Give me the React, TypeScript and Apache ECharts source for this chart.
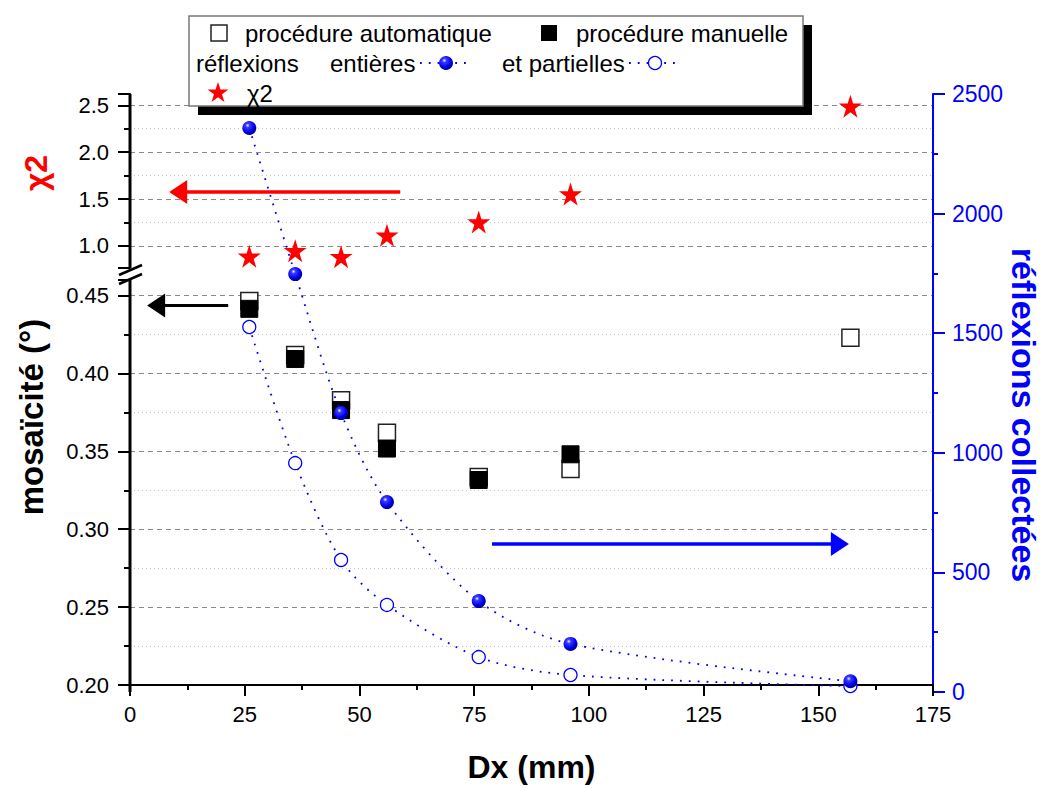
import React, { useEffect, useRef } from 'react';
import * as echarts from 'echarts';

// ---------- data ----------
const dx = [26, 36, 46, 56, 76, 96, 157];
const chi2 = [0.89, 0.95, 0.886, 1.114, 1.255, 1.553, 2.49];
const mosaicAuto = [0.4465, 0.4118, 0.3828, 0.3619, 0.3335, 0.3386, 0.4229];
const mosaicManual: (number | null)[] = [0.4415, 0.4093, 0.3765, 0.3518, 0.3316, 0.3481, null];
const reflEntieres = [2358, 1747, 1166, 794, 380, 201, 45];
const reflPartielles = [1526, 957, 552, 364, 146, 71, 25];

// axis ranges / steps
const chi2Range = [0.765, 2.62];
const chi2Step = 0.5;
const mosaicRange = [0.2, 0.46];
const mosaicStep = 0.05;
const dxRange = [0, 175];
const dxStep = 25;
const reflRange = [0, 2500];
const reflStep = 500;

// annotation arrows (data coordinates: [x, y] tail, [x, y] head)
const arrowChi2 = [[58.9, 1.574], [10.5, 1.574]];
const arrowMosaic = [[21.4, 0.4437], [5.7, 0.4437]];
const arrowRefl = [[78.9, 619], [154.7, 619]];

const FONT = "'Liberation Sans', Arial, Helvetica, sans-serif";

// layout (pixels)
const PLOT_LEFT = 130;
const PLOT_RIGHT = 119;
const TOP_SEG = { top: 94, height: 174 };
const BOT_SEG = { top: 280, height: 412 };

function starPts(cx: number, cy: number, R: number) {
  const pts: number[][] = [];
  for (let k = 0; k < 10; k++) {
    const r = k % 2 === 0 ? R : R * 0.382;
    const a = -Math.PI / 2 + (k * Math.PI) / 5;
    pts.push([cx + r * Math.cos(a), cy + r * Math.sin(a)]);
  }
  return pts;
}
const starPath =
  'path://M' + starPts(1, 1, 1).map((p) => p[0].toFixed(4) + ',' + p[1].toFixed(4)).join('L') + 'Z';

const pairs = (ys: (number | null)[]) =>
  dx.map((x, i) => [x, ys[i]]).filter((p) => p[1] !== null);

const sphereStops = [
  { offset: 0, color: '#f0f0ff' },
  { offset: 0.22, color: '#3a3aff' },
  { offset: 0.7, color: '#0000ee' },
  { offset: 1, color: '#00008a' },
];
const sphere = { type: 'radial', x: 0.38, y: 0.32, r: 0.68, colorStops: sphereStops };

const arrowML = (seg: number[][], color: string, width: number) => ({
  silent: true,
  symbol: ['none', 'triangle'],
  symbolSize: [24, 18],
  label: { show: false },
  emphasis: { disabled: true },
  lineStyle: { color, width, type: 'solid', opacity: 1 },
  data: [[{ coord: seg[0] }, { coord: seg[1] }]],
});

export default function App() {
  const ref = useRef<HTMLDivElement>(null);
  useEffect(() => {
    if (!ref.current) return;
    const chart = echarts.init(ref.current, undefined, { renderer: 'svg' });

    const black = () => ({ color: '#000000', width: 2, opacity: 1 });
    const blue = () => ({ color: '#0000ff', width: 2, opacity: 1 });
    const dashed = () => ({ type: [5, 4], color: '#8a8a8a', width: 1 });
    const dotted = () => ({ type: [1, 3], color: '#c4c4c4', width: 1 });

    const leftAxis = (gridIndex: number, range: number[], step: number, digits: number, showMin: boolean) => ({
      gridIndex,
      type: 'value',
      position: 'left',
      min: range[0],
      max: range[1],
      minInterval: step,
      maxInterval: step,
      axisLine: { show: true, onZero: false, lineStyle: black() },
      axisTick: { show: true, length: 12, lineStyle: black() },
      minorTick: { show: true, splitNumber: 2, length: 6, lineStyle: black() },
      axisLabel: {
        show: true,
        showMinLabel: showMin,
        showMaxLabel: false,
        fontSize: 22,
        color: '#000',
        margin: 21,
        fontFamily: FONT,
        formatter: (v: number) => v.toFixed(digits),
      },
      splitLine: { show: true, showMinLine: false, showMaxLine: false, lineStyle: dashed() },
      minorSplitLine: { show: true, lineStyle: dotted() },
    });

    const legendRow = [33, 63, 93];
    const legendText = (text: string, x: number, y: number) => ({
      type: 'text',
      x,
      y,
      z: 12,
      style: { text, fontSize: 24, fontFamily: FONT, fill: '#000', align: 'left', verticalAlign: 'middle' },
    });

    // left axis spine of a segment, drawn as a thin filled rectangle
    const spineRect = (top: number, height: number) => ({
      type: 'rect',
      z: 30,
      silent: true,
      shape: { x: PLOT_LEFT - 1.5, y: top, width: 3, height },
      style: { fill: '#000000' },
    });

    const option: any = {
      animation: false,
      backgroundColor: '#fff',
      grid: [
        { left: PLOT_LEFT, right: PLOT_RIGHT, top: TOP_SEG.top, height: TOP_SEG.height },
        { left: PLOT_LEFT, right: PLOT_RIGHT, top: BOT_SEG.top, height: BOT_SEG.height },
        { left: PLOT_LEFT, right: PLOT_RIGHT, top: TOP_SEG.top, height: BOT_SEG.top + BOT_SEG.height - TOP_SEG.top },
      ],
      xAxis: [
        { gridIndex: 0, type: 'value', min: dxRange[0], max: dxRange[1], show: false },
        {
          gridIndex: 1,
          type: 'value',
          min: dxRange[0],
          max: dxRange[1],
          interval: dxStep,
          axisLine: { show: true, onZero: false, lineStyle: black() },
          axisTick: { show: true, length: 11, lineStyle: black() },
          minorTick: { show: true, splitNumber: 2, length: 5, lineStyle: black() },
          axisLabel: { fontSize: 22, color: '#000', margin: 18, fontFamily: FONT, formatter: (v: number) => String(v) },
          splitLine: { show: false },
          name: 'Dx (mm)',
          nameLocation: 'middle',
          nameGap: 66,
          nameTextStyle: { fontSize: 32, fontWeight: 'bold', color: '#000', fontFamily: FONT },
        },
        { gridIndex: 2, type: 'value', min: dxRange[0], max: dxRange[1], show: false },
      ],
      yAxis: [
        leftAxis(0, chi2Range, chi2Step, 1, false),
        leftAxis(1, mosaicRange, mosaicStep, 2, true),
        {
          gridIndex: 2,
          type: 'value',
          position: 'right',
          min: reflRange[0],
          max: reflRange[1],
          interval: reflStep,
          axisLine: { show: true, onZero: false, lineStyle: blue() },
          axisTick: { show: true, length: 12, lineStyle: blue() },
          minorTick: { show: true, splitNumber: 2, length: 5, lineStyle: blue() },
          axisLabel: { fontSize: 23, color: '#0000ff', margin: 19, fontFamily: FONT, formatter: (v: number) => String(v) },
          splitLine: { show: false },
          minorSplitLine: { show: false },
        },
      ],
      series: [
        {
          name: 'χ2',
          type: 'scatter',
          xAxisIndex: 0,
          yAxisIndex: 0,
          symbol: starPath,
          symbolSize: 23,
          itemStyle: { color: '#ff0000', opacity: 1 },
          data: pairs(chi2),
          markLine: arrowML(arrowChi2, '#ff0000', 3.5),
        },
        {
          name: 'procédure automatique',
          type: 'scatter',
          xAxisIndex: 1,
          yAxisIndex: 1,
          symbol: 'rect',
          symbolSize: 17,
          itemStyle: { color: '#ffffff', borderColor: '#222', borderWidth: 1.5, opacity: 1 },
          data: pairs(mosaicAuto),
        },
        {
          name: 'procédure manuelle',
          type: 'scatter',
          xAxisIndex: 1,
          yAxisIndex: 1,
          symbol: 'rect',
          symbolSize: 17,
          itemStyle: { color: '#000000', borderColor: '#000', borderWidth: 1, opacity: 1 },
          data: pairs(mosaicManual),
          markLine: arrowML(arrowMosaic, '#000000', 3),
        },
        {
          name: 'et partielles',
          type: 'line',
          xAxisIndex: 2,
          yAxisIndex: 2,
          smooth: 0.3,
          symbol: 'circle',
          symbolSize: 13,
          itemStyle: { color: '#ffffff', borderColor: '#0000ff', borderWidth: 1.3, opacity: 1 },
          lineStyle: { color: '#0000ff', width: 1.8, type: [1.8, 7] },
          data: pairs(reflPartielles),
        },
        {
          name: 'entières',
          type: 'line',
          xAxisIndex: 2,
          yAxisIndex: 2,
          smooth: 0.3,
          symbol: 'circle',
          symbolSize: 14,
          itemStyle: { color: sphere, opacity: 1 },
          lineStyle: { color: '#0000ff', width: 1.8, type: [1.8, 7] },
          data: pairs(reflEntieres),
          markLine: arrowML(arrowRefl, '#0000ff', 3.5),
        },
      ],
      graphic: [
        // left axis spines of the two segments
        spineRect(TOP_SEG.top, TOP_SEG.height),
        spineRect(BOT_SEG.top, BOT_SEG.height),
        // axis titles
        {
          type: 'text', x: 36, y: 173, rotation: Math.PI / 2, z: 12,
          style: { text: 'χ2', fontSize: 32, fontWeight: 'bold', fontFamily: FONT, fill: '#ff0000', align: 'center', verticalAlign: 'middle' },
        },
        {
          type: 'text', x: 31, y: 417, rotation: Math.PI / 2, z: 12,
          style: { text: 'mosaïcité (°)', fontSize: 33, fontWeight: 'bold', fontFamily: FONT, fill: '#000', align: 'center', verticalAlign: 'middle' },
        },
        {
          type: 'text', x: 1024, y: 415, rotation: -Math.PI / 2, z: 12,
          style: { text: 'réflexions collectées', fontSize: 34, fontWeight: 'bold', fontFamily: FONT, fill: '#0000ff', align: 'center', verticalAlign: 'middle' },
        },
        // axis break marks
        { type: 'line', z: 31, shape: { x1: 119, y1: 275, x2: 142, y2: 265 }, style: { stroke: '#000', lineWidth: 2.5 } },
        { type: 'line', z: 31, shape: { x1: 119, y1: 284, x2: 142, y2: 274 }, style: { stroke: '#000', lineWidth: 2.5 } },
        // legend box
        { type: 'rect', z: 10, shape: { x: 198, y: 25, width: 614, height: 90 }, style: { fill: '#000' } },
        { type: 'rect', z: 11, shape: { x: 189, y: 16, width: 614, height: 90 }, style: { fill: '#fff', stroke: '#777', lineWidth: 1.5 } },
        // row 1
        { type: 'rect', z: 12, shape: { x: 211, y: legendRow[0] - 8, width: 16, height: 16 }, style: { fill: '#fff', stroke: '#222', lineWidth: 1.5 } },
        legendText('procédure automatique', 245, legendRow[0]),
        { type: 'rect', z: 12, shape: { x: 541, y: legendRow[0] - 8, width: 16, height: 16 }, style: { fill: '#000' } },
        legendText('procédure manuelle', 576, legendRow[0]),
        // row 2
        legendText('réflexions', 196, legendRow[1]),
        legendText('entières', 330, legendRow[1]),
        { type: 'line', z: 12, shape: { x1: 420, y1: legendRow[1], x2: 469, y2: legendRow[1] }, style: { stroke: '#0000ff', lineWidth: 1.8, lineDash: [1.8, 7] } },
        {
          type: 'circle', z: 13, shape: { cx: 446, cy: legendRow[1], r: 7 },
          style: { fill: new (echarts.graphic as any).RadialGradient(0.38, 0.32, 0.68, sphereStops) },
        },
        legendText('et partielles', 502, legendRow[1]),
        { type: 'line', z: 12, shape: { x1: 629, y1: legendRow[1], x2: 678, y2: legendRow[1] }, style: { stroke: '#0000ff', lineWidth: 1.8, lineDash: [1.8, 7] } },
        { type: 'circle', z: 13, shape: { cx: 655, cy: legendRow[1], r: 6.5 }, style: { fill: '#fff', stroke: '#0000ff', lineWidth: 1.3 } },
        // row 3
        { type: 'polygon', z: 12, shape: { points: starPts(218, legendRow[2], 11) }, style: { fill: '#ff0000' } },
        legendText('χ2', 247, legendRow[2]),
      ],
    };

    chart.setOption(option);
    return () => chart.dispose();
  }, []);

  return (
    <div
      ref={ref}
      style={{ position: 'absolute', left: 0, top: 0, width: 1052, height: 788, background: '#fff' }}
    />
  );
}
